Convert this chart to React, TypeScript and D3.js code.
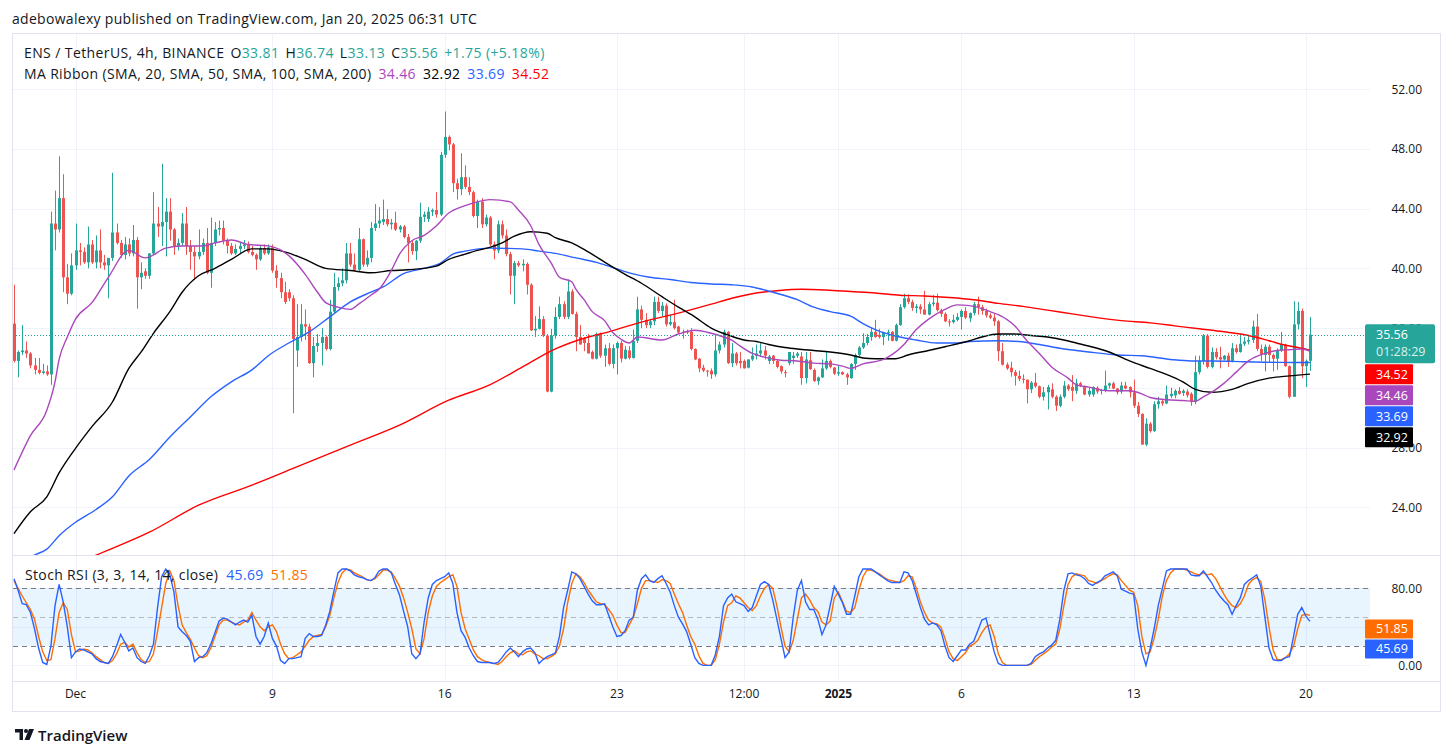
import React from "react";
import * as d3 from "d3";

// ---------- DATA ----------
// 4h candles [open, high, low, close], starting 2024-11-28 12:00 UTC
const candles: [number, number, number, number][] = [
  [36.3,38.9,33.7,33.8],[33.8,34.5,32.7,34.4],[34.4,36.2,34.2,34.5],[34.5,35.1,34.0,34.3],[34.3,34.4,33.3,33.5],[33.5,34.0,32.9,33.2],[33.2,34.0,32.9,33.0],[33.0,33.6,32.9,33.1],[33.1,33.5,32.8,32.9],[32.9,43.8,32.2,43.0],
  [43.0,45.2,41.2,42.6],[42.6,47.5,42.4,44.7],[44.7,46.3,38.4,39.4],[39.4,40.3,37.6,38.3],[38.3,41.0,38.2,40.2],[40.2,43.0,39.9,41.2],[41.2,41.7,40.2,41.1],[41.1,41.4,40.3,40.4],[40.4,42.8,40.0,41.6],[41.6,41.9,40.3,40.4],
  [40.4,42.2,40.0,41.2],[41.2,42.6,40.0,40.4],[40.4,40.9,39.9,40.2],[40.2,40.7,38.0,40.7],[40.7,46.4,40.5,42.4],[42.4,43.0,41.6,41.7],[41.7,41.9,40.7,40.9],[40.9,42.1,40.6,41.6],[41.6,42.0,40.8,41.0],
  [41.0,42.9,40.8,41.9],[41.9,42.1,37.3,39.4],[39.4,40.4,38.6,39.7],[39.8,40.0,39.3,39.5],[39.5,41.0,39.3,41.0],[41.0,45.1,40.9,43.0],[43.0,44.1,42.1,42.8],[42.8,47.0,41.5,43.1],[43.1,44.7,40.8,43.8],[43.8,44.7,41.85,42.6],
  [42.6,42.7,40.9,41.5],[41.5,42.0,41.2,41.7],[41.7,43.7,41.5,43.0],[43.0,44.1,40.9,41.5],[41.5,41.9,39.9,41.1],[41.1,41.5,39.2,40.8],[40.8,42.6,40.6,41.1],[41.1,42.0,40.9,41.7],[41.7,42.7,39.6,39.7],[39.7,43.4,38.7,41.7],
  [41.7,43.1,41.5,42.6],[42.6,43.2,42.2,42.7],[42.7,43.2,41.6,41.85],[41.85,42.0,41.0,41.5],[41.5,41.7,40.9,41.0],[41.0,41.6,40.9,41.3],[41.3,41.7,41.0,41.5],[41.5,41.9,41.3,41.6],[41.6,41.8,41.0,41.1],
  [41.1,41.5,40.8,40.9],[40.9,41.0,39.9,40.6],[40.6,41.5,40.5,41.35],[41.35,41.6,40.9,41.0],[41.0,41.6,40.9,41.4],[41.4,41.6,39.7,39.85],[39.85,40.2,38.7,39.35],[39.35,39.7,38.0,38.4],[38.4,39.1,37.6,37.75],[38.4,38.6,37.8,38.0],
  [38.0,38.2,30.3,35.27],[34.5,37.6,33.4,35.4],[35.4,37.6,35.1,36.26],[36.26,37.25,35.2,36.1],[36.1,36.3,33.6,33.65],[33.65,35.4,32.7,34.8],[34.8,35.6,34.4,35.0],[35.0,36.0,33.5,35.4],[35.4,35.5,34.5,34.6],[34.6,37.9,34.5,37.1],
  [37.1,39.7,37.0,38.75],[38.75,39.4,38.5,39.0],[39.0,40.0,38.8,39.2],[39.2,41.7,39.0,41.0],[41.0,41.7,40.1,40.25],[40.25,41.0,39.8,39.9],[39.9,42.7,39.8,41.95],[41.95,42.0,40.1,40.25],[40.25,41.2,40.1,40.7],
  [40.7,43.1,40.4,42.7],[42.7,44.3,42.5,43.0],[43.0,44.1,42.7,43.2],[43.1,44.6,42.9,43.3],[43.3,43.95,42.8,42.95],[42.95,43.3,42.6,43.05],[43.05,43.8,42.5,42.6],[42.6,42.9,42.4,42.8],[42.8,42.9,42.0,42.1],[42.1,42.3,40.4,41.7],
  [41.7,41.9,40.9,41.15],[41.15,41.9,40.55,41.85],[41.85,44.4,41.7,43.45],[43.45,43.8,43.1,43.6],[43.3,44.1,43.1,43.8],[43.8,44.0,43.5,43.9],[43.9,45.1,43.4,43.6],[43.6,47.8,43.5,47.6],[47.6,50.5,47.4,48.8],[48.8,48.9,47.9,48.3],
  [48.3,48.4,45.1,45.7],[45.7,46.0,44.6,45.3],[45.3,47.7,44.9,46.1],[46.1,46.9,45.3,45.45],[45.45,46.1,44.9,45.1],[45.1,45.2,43.4,43.5],[43.5,44.6,42.7,44.45],[44.45,44.7,42.7,42.95],[42.95,43.6,42.8,43.4],[43.4,43.5,41.5,41.6],
  [41.6,41.8,40.6,41.2],[41.2,43.2,41.0,42.95],[42.95,43.2,42.0,42.2],[42.2,42.6,40.8,40.95],[40.95,41.1,38.25,39.5],[39.5,40.5,37.6,40.35],[40.35,40.5,40.1,40.2],[40.2,40.6,39.8,40.3],[40.3,40.4,38.25,38.9],[38.9,39.0,35.8,35.85],
  [35.85,36.8,35.4,35.95],[35.95,37.45,35.9,36.6],[36.6,36.8,35.4,35.5],[35.5,35.6,31.7,31.75],[31.75,35.95,31.7,35.5],[35.5,37.4,35.3,36.75],[36.75,38.1,36.6,37.6],[37.6,37.8,36.6,36.75],[36.75,39.25,36.6,38.45],[38.45,38.6,36.9,36.95],
  [36.95,37.1,34.45,35.4],[35.4,36.2,34.9,34.9],[35.3,35.4,34.45,35.0],[35.0,35.6,34.3,34.3],[34.4,34.5,33.9,33.95],[33.95,35.7,33.9,35.6],[35.6,35.7,34.0,34.15],[34.15,34.9,33.4,34.65],[34.65,35.0,33.5,33.6],
  [33.6,34.9,33.3,34.65],[34.65,35.1,32.9,35.0],[35.0,35.15,33.7,33.95],[33.95,34.8,33.9,34.55],[34.5,34.8,33.9,34.0],[34.0,35.9,33.95,35.15],[35.15,38.1,35.0,37.25],[37.25,37.5,36.0,36.55],[36.55,37.0,36.0,36.2],[36.2,36.6,36.0,36.45],
  [36.45,38.1,36.2,37.75],[37.75,38.1,37.0,37.15],[37.15,37.75,36.8,37.5],[37.5,37.65,36.1,36.25],[36.25,36.9,36.15,36.4],[36.4,37.9,35.9,36.0],[36.1,36.15,35.6,35.7],[35.7,35.9,35.3,35.75],[35.8,35.9,35.6,35.7],[35.75,36.0,34.5,34.6],
  [34.6,34.65,33.85,33.9],[33.95,34.0,33.05,33.3],[33.35,33.55,33.05,33.15],[33.15,33.2,32.75,33.1],[33.15,33.3,32.6,32.9],[32.9,35.6,32.75,34.5],[34.5,35.1,34.3,34.9],[34.9,35.9,34.7,35.75],[35.75,35.8,33.6,33.65],
  [33.65,35.0,33.4,34.3],[34.3,34.4,33.5,33.65],[33.8,34.4,33.3,33.65],[33.8,33.9,33.3,33.3],[33.35,33.9,33.3,33.9],[33.9,34.7,33.8,34.15],[34.15,34.9,33.9,34.3],[34.3,35.0,34.1,34.5],[34.5,34.8,33.9,34.15],[33.8,34.2,33.6,34.1],
  [34.15,34.2,33.6,33.8],[33.8,33.9,33.3,33.4],[33.45,33.5,32.95,33.1],[33.05,33.2,32.7,33.0],[33.65,34.4,33.5,34.4],[34.0,34.4,33.6,34.15],[34.15,34.4,34.0,34.3],[34.1,34.4,32.2,32.65],[32.65,34.4,32.3,33.9],[33.85,34.4,33.2,33.25],
  [33.2,33.3,32.4,32.45],[32.45,32.75,32.2,32.7],[32.7,33.9,32.65,33.3],[33.3,34.45,33.2,33.8],[33.8,33.9,33.3,33.4],[33.35,33.4,32.85,32.95],[32.95,33.5,32.8,33.05],[33.05,33.1,32.85,32.9],[32.9,33.0,32.2,32.7],
  [32.65,33.65,32.6,33.6],[33.6,34.3,33.2,34.2],[34.2,34.8,34.1,34.7],[34.7,35.65,34.6,35.0],[35.0,35.6,34.85,35.4],[35.4,36.0,35.15,35.75],[35.75,36.55,35.35,35.4],[35.55,35.95,35.3,35.4],[35.4,35.75,34.85,35.7],[35.7,35.9,35.15,35.75],
  [35.75,35.8,35.1,35.15],[35.15,36.3,35.1,36.2],[36.2,37.6,36.15,37.4],[37.4,38.3,37.3,38.0],[38.0,38.25,37.6,37.75],[37.75,37.9,37.15,37.35],[37.35,37.6,37.0,37.45],[37.45,37.6,36.95,37.25],[37.25,38.5,36.9,36.9],[36.9,37.75,36.85,37.6],
  [37.6,38.2,37.45,37.7],[37.7,38.3,37.1,37.2],[37.2,37.3,36.75,36.95],[36.95,37.05,36.4,36.45],[36.45,36.6,36.1,36.4],[36.4,36.9,36.3,36.55],[36.55,37.0,36.45,36.75],[36.75,37.25,35.9,37.15],[37.15,37.4,36.6,36.7],[36.65,37.05,36.4,37.0],
  [37.0,37.75,36.85,37.6],[37.6,38.1,36.9,37.4],[37.4,37.55,36.9,37.15],[37.15,37.3,36.7,36.85],[36.85,37.0,36.6,36.7],[36.7,36.95,36.15,36.45],[36.45,36.55,33.8,34.45],[34.45,35.0,33.5,33.55],[33.55,33.7,33.2,33.3],[33.35,33.75,32.75,33.05],
  [33.05,33.2,32.15,32.8],[32.8,33.15,32.45,32.6],[32.6,32.9,32.3,32.55],[32.55,32.55,30.95,31.9],[31.9,32.45,31.65,32.35],[32.35,33.0,32.0,32.1],[32.1,32.15,31.3,31.4],[31.4,32.05,31.15,31.7],[31.7,32.2,30.55,32.05],[31.9,32.3,31.3,31.4],
  [31.4,31.5,30.45,30.8],[30.8,31.55,30.7,31.4],[31.4,32.45,31.3,32.15],[32.15,32.25,31.8,31.9],[32.05,32.85,31.1,31.8],[31.8,32.6,31.6,32.3],[32.3,32.4,32.05,32.15],[32.05,32.15,31.5,31.55],[31.55,32.0,31.4,31.8],
  [31.55,32.1,31.4,32.05],[32.0,32.1,31.6,31.75],[31.8,31.9,31.55,31.85],[31.8,33.15,31.7,32.15],[32.15,32.35,31.95,32.3],[32.3,32.4,31.9,31.95],[31.95,32.0,31.55,31.7],[31.75,32.4,31.6,32.15],[32.15,32.4,31.9,31.95],[32.05,32.1,31.35,31.7],
  [31.7,32.55,30.65,30.8],[30.8,31.05,30.05,30.25],[30.25,30.3,28.2,28.2],[28.2,29.95,28.1,29.6],[29.6,29.7,29.0,29.1],[29.1,31.1,29.05,30.9],[30.9,31.4,30.6,31.1],[31.1,31.2,30.8,30.95],[30.95,32.15,30.9,31.55],[31.45,32.0,31.3,31.6],
  [31.5,31.9,31.3,31.8],[31.8,32.05,31.55,31.6],[31.65,31.9,31.45,31.8],[31.75,31.9,31.35,31.5],[31.6,31.7,30.8,31.05],[31.05,34.15,30.9,33.05],[33.05,34.15,32.9,33.8],[33.8,35.6,33.55,35.5],[35.5,35.6,33.3,33.4],
  [33.4,34.7,33.3,34.4],[34.4,34.65,33.9,34.05],[34.05,34.75,33.3,33.9],[33.9,34.2,33.85,34.15],[34.15,34.35,33.4,33.8],[33.8,35.0,33.7,34.65],[34.65,34.9,34.3,34.4],[34.4,35.6,34.35,34.95],[34.95,35.4,34.8,35.1],[35.1,35.5,34.9,35.2],
  [35.2,36.5,35.0,36.1],[36.1,36.95,34.45,34.6],[34.6,34.9,33.8,34.2],[34.2,34.9,33.1,34.75],[34.75,34.9,33.7,34.2],[34.2,34.3,33.1,33.95],[33.95,34.65,33.2,34.5],[34.5,35.75,34.4,34.9],[34.9,34.95,33.4,33.45],[33.45,33.5,31.3,31.4],
  [31.4,37.8,31.4,36.25],[36.25,37.75,35.9,37.15],[37.15,37.3,32.65,33.45],[33.45,33.9,32.05,33.81],[33.81,36.74,33.13,35.56],
];

// MA Ribbon values sampled along the chart: [candle index, value]
const sma20: [number, number][] = [[0,26.5],[4,28.8],[8,30.5],[10,32.4],[11,33.9],[13,35.4],[15,36.6],[19,37.7],[23,39.4],[28,41.2],[32,40.7],[37,41.35],[41,41.5],[46,41.5],[49,41.7],[53,41.9],[57,41.6],[62,41.5],[67,40.85],[71,39.6],[74,38.4],[76,37.7],[79,37.4],[82,37.25],[84,37.6],[87,38.2],[89,38.6],[92,39.85],[94,40.95],[97,41.85],[100,42.2],[103,42.85],[106,43.7],[110,44.2],[113,44.45],[116,44.6],[121,44.45],[123,43.9],[126,42.85],[128,41.6],[131,40.35],[133,39.4],[136,39.1],[137,38.6],[139,37.9],[141,37.1],[144,36.5],[146,35.7],[148,35.25],[150,35.0],[152,35.4],[158,35.2],[162,35.6],[166,35.85],[170,35.65],[173,35.4],[175,35.2],[177,34.8],[180,34.3],[183,34.05],[187,33.85],[191,33.8],[195,33.65],[199,33.6],[202,33.45],[204,33.3],[207,33.6],[212,33.9],[214,34.2],[217,34.9],[220,35.9],[223,36.6],[227,37.25],[230,37.55],[233,37.5],[236,37.3],[238,37.1],[240,36.9],[244,36.15],[247,35.15],[250,34.3],[253,33.4],[257,32.65],[259,32.2],[262,32.05],[267,31.8],[272,31.8],[275,31.6],[277,31.35],[281,31.2],[285,31.15],[288,31.1],[290,31.4],[292,31.7],[295,32.3],[298,33.05],[301,33.8],[305,34.3],[308,34.5],[311,34.55],[314,34.6],[316,34.46]];
const sma50: [number, number][] = [[0,22.24],[4,23.7],[8,24.7],[11,26.3],[15,27.95],[19,29.4],[24,31.05],[28,33.3],[31,34.4],[34,35.65],[38,37.1],[41,38.4],[45,39.5],[49,40.0],[53,40.6],[58,41.3],[62,41.3],[66,41.1],[71,40.6],[76,40.0],[82,39.85],[87,39.7],[92,39.85],[96,39.9],[103,40.15],[106,40.6],[110,40.95],[113,41.2],[116,41.4],[119,41.7],[122,42.15],[126,42.45],[130,42.35],[132,42.05],[136,41.7],[140,41.1],[145,40.25],[149,39.6],[153,39.0],[158,38.1],[162,37.4],[166,36.75],[170,36.0],[175,35.45],[178,35.2],[181,35.1],[184,34.9],[188,34.7],[191,34.6],[195,34.5],[199,34.4],[204,34.2],[207,34.0],[210,33.95],[215,33.95],[218,34.2],[223,34.5],[227,34.75],[233,35.15],[236,35.4],[240,35.6],[244,35.6],[248,35.5],[252,35.4],[256,35.2],[259,35.0],[262,34.8],[267,34.4],[272,33.8],[277,33.3],[281,32.9],[285,32.4],[288,31.9],[292,31.7],[297,31.9],[301,32.3],[306,32.65],[311,32.8],[316,32.92]];
const sma100: [number, number][] = [[0,19.9],[5,20.8],[8,21.2],[11,22.1],[15,23.0],[20,23.85],[24,24.7],[28,26.1],[33,27.2],[38,28.7],[43,30.05],[48,31.4],[53,32.4],[58,33.2],[62,34.15],[67,35.0],[72,35.75],[77,36.75],[82,37.75],[87,38.4],[90,38.75],[95,39.65],[100,40.0],[104,40.35],[107,40.95],[110,41.15],[116,41.35],[124,41.3],[128,41.15],[132,41.0],[137,40.7],[142,40.4],[145,40.15],[150,39.7],[155,39.4],[160,39.25],[165,39.05],[170,38.95],[175,38.9],[180,38.75],[183,38.55],[187,38.25],[191,37.9],[195,37.4],[199,37.1],[204,36.8],[207,36.3],[210,35.9],[216,35.4],[220,35.2],[225,35.0],[230,35.0],[233,35.1],[240,35.15],[245,35.1],[250,34.9],[255,34.65],[259,34.5],[262,34.4],[269,34.2],[275,34.15],[282,33.9],[287,33.8],[292,33.8],[300,33.75],[308,33.7],[316,33.69]];
const sma200: [number, number][] = [[0,18.4],[20,20.79],[33,22.33],[45,24.14],[58,25.48],[70,26.82],[82,28.16],[94,29.5],[106,31.17],[116,32.2],[124,33.4],[132,34.6],[140,35.4],[145,35.75],[153,36.4],[162,37.0],[170,37.6],[175,38.0],[180,38.3],[186,38.5],[192,38.6],[198,38.55],[204,38.45],[210,38.35],[216,38.2],[222,38.15],[228,38.05],[234,37.9],[240,37.65],[246,37.45],[252,37.2],[258,36.95],[264,36.7],[270,36.5],[277,36.35],[283,36.15],[289,35.95],[295,35.75],[301,35.5],[306,35.15],[310,34.85],[313,34.7],[316,34.52]];

// Stoch RSI %K and %D, one value per candle
const stochK = [90,78,64,63,55,38,18,3,1,20,62,84,66,40,8,14,17,16,14,12,7,4,3,2,9,20,32,24,15,
  18,8,4,2,10,22,60,92,100,94,76,40,35,31,25,4,8,9,13,22,34,46,49,48,45,42,45,47,45,
  52,30,22,30,44,28,20,5,2,7,7,8,9,28,33,30,30,31,42,56,77,96,100,100,98,94,92,91,89,
  88,91,98,100,100,96,84,73,56,40,12,7,12,45,70,84,88,90,92,96,85,55,36,29,18,10,4,3,3,3,
  2,3,8,14,18,14,9,14,17,18,13,2,6,9,11,13,30,60,78,97,95,90,82,74,67,63,63,64,52,
  40,30,31,36,47,50,78,90,94,88,86,90,93,85,76,62,50,43,35,22,8,2,0,0,0,11,30,62,70,
  74,66,64,62,56,60,72,84,87,84,68,48,28,8,14,50,78,88,66,58,58,48,32,42,62,82,74,65,53,
  53,72,92,100,100,100,97,94,91,88,86,86,86,97,96,88,74,60,48,42,44,42,36,20,8,4,10,16,16,22,
  25,36,47,49,32,14,2,0,0,0,0,0,0,0,2,9,12,14,18,21,26,48,78,95,96,94,93,90,85,
  83,86,88,93,95,97,93,79,77,75,74,38,14,0,17,38,62,80,98,100,100,100,100,100,94,93,93,98,92,
  86,78,72,67,63,53,62,70,84,88,91,94,82,50,18,6,5,5,8,9,30,53,60,51,45.69];
const stochD = [88,80,72,65,58,48,30,14,5,6,28,55,65,58,32,14,15,17,16,13,9,6,3,2,5,12,22,24,19,
  22,13,6,3,4,12,35,60,85,98,88,62,42,34,27,18,10,8,10,18,30,42,47,47,45,43,42,45,47,
  55,47,40,36,40,42,35,22,12,7,8,11,14,20,26,30,31,32,40,52,70,86,96,100,99,96,94,92,89,
  88,90,94,99,99,97,90,82,70,55,38,17,12,28,55,72,82,86,89,92,94,82,55,38,27,16,9,6,4,3,
  2,1,4,9,13,15,12,11,14,15,12,10,7,7,9,12,20,38,65,85,95,92,86,78,72,66,64,63,58,
  52,42,34,34,42,50,64,80,88,88,87,86,89,88,85,74,64,55,42,30,22,10,2,0,0,6,22,45,62,
  65,72,70,65,60,57,62,72,80,84,80,62,40,20,14,26,48,70,74,68,60,56,45,42,46,70,76,66,56,
  55,60,78,92,99,99,97,95,92,89,88,87,86,88,93,92,80,66,55,47,44,43,40,28,14,7,5,9,13,20,
  22,26,34,40,42,30,12,3,0,0,0,0,0,0,1,5,9,12,15,19,22,38,62,84,92,95,94,93,88,
  87,85,88,90,93,95,94,88,83,78,76,62,30,12,14,28,48,72,88,96,100,100,100,99,97,95,94,96,94,
  95,90,82,74,67,62,60,64,72,84,89,91,87,68,40,16,6,6,8,12,20,38,52,53,51.85];

const priceTicks = [24, 28, 32, 36, 40, 44, 48, 52];
const stochTicks = [0, 40, 80];
const stochBands = [20, 50, 80];
const timeTickDates = ["2024-12-01T00:00Z","2024-12-09T00:00Z","2024-12-16T00:00Z","2024-12-23T00:00Z","2024-12-28T04:00Z","2025-01-01T00:00Z","2025-01-06T00:00Z","2025-01-13T00:00Z","2025-01-20T00:00Z"];
const timeTickLabels = ["Dec","9","16","23","12:00","2025","6","13","20"];
const ohlcLabels = ["O","H","L","C"];
const ohlcValues = ["33.81","36.74","33.13","35.56"];
const changeText = "+1.75 (+5.18%)";
const maLegend = ["34.46","32.92","33.69","34.52"];
const maLast = [34.46, 32.92, 33.69, 34.52];
const stochLegend = ["45.69","51.85"];
const stochLast = [45.69, 51.85];
const countdown = "01:28:29";

// ---------- STYLE ----------
const START = Date.UTC(2024, 10, 28, 12);
const STEP = 4 * 3600 * 1000;
const UP = "#26a69a", DOWN = "#ef5350";
const MA_COLORS = ["#ab47bc", "#000000", "#2962ff", "#ff0000"]; // 20, 50, 100, 200
const K_COLOR = "#2962ff", D_COLOR = "#ff6d00";
const TEXT = "#131722";
const GRID = "#f0f3fa";
const FONT = "'Open Sans', Roboto, sans-serif";

const L = 13, R = 1370;
const PT = 34, PB = 555, ST = 556, SB = 681;
const BX = 1365, BW_NARROW = 48, BW_WIDE = 70;

export default function App() {
  const times = candles.map((_, i) => new Date(START + i * STEP));
  const x = d3.scaleUtc().domain([times[0], times[times.length - 1]]).range([14, 1310]);
  const xi = (i: number) => x(new Date(START + i * STEP));
  const y = d3.scaleLinear().domain([24, 52]).range([507.3, 89.1]);
  const ys = d3.scaleLinear().domain([20, 80]).range([646.1, 588.3]);

  const maLine = d3.line<[number, number]>().x(d => xi(d[0])).y(d => y(d[1])).curve(d3.curveMonotoneX);
  const stLine = d3.line<number>().x((_, i) => xi(i)).y(d => ys(d)).curve(d3.curveLinear);

  const last = candles[candles.length - 1][3];
  // price-axis badges, stacked to avoid overlap
  const closeTop = y(last) - 10.5;
  const closeH = 39;
  const order = [3, 0, 2, 1];
  let cursor = closeTop + closeH + 1;
  const badges = order.map(k => {
    const top = Math.max(y(maLast[k]) - 10, cursor);
    cursor = top + 21;
    return { k, top };
  });
  // stoch badges (D above K)
  let sc = -Infinity;
  const stBadges = [1, 0].map(j => {
    const top = Math.max(ys(stochLast[j]) + 4, sc);
    sc = top + 20;
    return { top, c: j === 1 ? D_COLOR : K_COLOR, t: stochLegend[j] };
  });

  const narrowSpans = [...badges.map(b => [b.top, b.top + 20]), ...stBadges.map(b => [b.top, b.top + 19])];
  const hidden = (py: number) => narrowSpans.some(([a, b]) => py >= a && py <= b);

  const bw = 3;

  return (
    <svg width={1453} height={756} style={{ position: "absolute", left: 0, top: 0, background: "#fff" }} fontFamily={FONT}>
      <defs>
        <clipPath id="pc"><rect x={L} y={PT} width={R - L} height={PB - PT} /></clipPath>
        <clipPath id="sc"><rect x={L} y={ST} width={R - L} height={SB - ST} /></clipPath>
      </defs>
      <rect width={1453} height={756} fill="#fff" />
      <text x={12} y={24} fontSize={14} letterSpacing={0.3} fill={TEXT}>adebowalexy published on TradingView.com, Jan 20, 2025 06:31 UTC</text>
      <rect x={12.5} y={33.5} width={1428} height={678} fill="none" stroke="#e0e3eb" />

      {/* grid */}
      {priceTicks.map(t => <line key={"pg" + t} x1={L} x2={R} y1={Math.round(y(t)) + 0.5} y2={Math.round(y(t)) + 0.5} stroke={GRID} />)}
      {stochTicks.map(t => <line key={"sg" + t} x1={L} x2={R} y1={Math.round(ys(t)) + 0.5} y2={Math.round(ys(t)) + 0.5} stroke={GRID} />)}
      {timeTickDates.map(d => {
        const px = Math.round(x(new Date(d))) + 0.5;
        return <line key={"vg" + d} x1={px} x2={px} y1={PT} y2={SB} stroke={GRID} />;
      })}

      {/* stoch band */}
      <rect x={L} y={ys(80)} width={R - L} height={ys(20) - ys(80)} fill="rgba(33,150,243,0.1)" />
      {stochBands.map(b => (
        <line key={"sb" + b} x1={L} x2={R} y1={Math.round(ys(b)) + 0.5} y2={Math.round(ys(b)) + 0.5}
          stroke={b === 50 ? "rgba(120,123,134,0.5)" : "#787b86"} strokeDasharray="5,4" />
      ))}

      {/* pane separators */}
      <line x1={L} x2={1440} y1={PB + 0.5} y2={PB + 0.5} stroke="#e0e3eb" />
      <line x1={L} x2={1440} y1={SB + 0.5} y2={SB + 0.5} stroke="#e0e3eb" />

      {/* candles */}
      <g clipPath="url(#pc)">
        {candles.map((c, i) => {
          const [o, h, l, cl] = c;
          const col = cl >= o ? UP : DOWN;
          const cx = Math.round(xi(i));
          const top = y(Math.max(o, cl)), bot = y(Math.min(o, cl));
          return (
            <g key={i}>
              <line x1={cx + 0.5} x2={cx + 0.5} y1={y(h)} y2={y(l)} stroke={col} />
              <rect x={cx - 1} y={top} width={bw} height={Math.max(1, bot - top)} fill={col} />
            </g>
          );
        })}
        {[sma200, sma100, sma50, sma20].map((s, j) => (
          <path key={"ma" + j} d={maLine(s) || ""} fill="none" stroke={MA_COLORS[3 - j]} strokeWidth={1.4} />
        ))}
        <line x1={L} x2={R} y1={Math.round(y(last)) + 0.5} y2={Math.round(y(last)) + 0.5} stroke={UP} strokeDasharray="1,2" />
      </g>

      {/* stoch lines */}
      <g clipPath="url(#sc)">
        <path d={stLine(stochD) || ""} fill="none" stroke={D_COLOR} strokeWidth={1.4} />
        <path d={stLine(stochK) || ""} fill="none" stroke={K_COLOR} strokeWidth={1.4} />
      </g>

      {/* legends */}
      <text x={24} y={58} fontSize={14} letterSpacing={0.4} fill={TEXT}>
        <tspan>ENS / TetherUS, 4h, BINANCE</tspan>
        {ohlcLabels.map((lb, j) => (
          <React.Fragment key={lb}>
            <tspan dx={j === 0 ? 6 : 6} fill={TEXT}>{lb}</tspan>
            <tspan fill={UP}>{ohlcValues[j]}</tspan>
          </React.Fragment>
        ))}
        <tspan dx={6} fill={UP}>{changeText}</tspan>
      </text>
      <text x={24} y={79} fontSize={14} letterSpacing={0.35} fill={TEXT}>
        <tspan>MA Ribbon (SMA, 20, SMA, 50, SMA, 100, SMA, 200)</tspan>
        {maLegend.map((v, j) => <tspan key={j} dx={7} fill={MA_COLORS[j]}>{v}</tspan>)}
      </text>
      <text x={25} y={580} fontSize={14} letterSpacing={0.35} fill={TEXT}>
        <tspan>Stoch RSI (3, 3, 14, 14, close)</tspan>
        <tspan dx={8} fill={K_COLOR}>{stochLegend[0]}</tspan>
        <tspan dx={7} fill={D_COLOR}>{stochLegend[1]}</tspan>
      </text>

      {/* price axis labels */}
      {priceTicks.filter(t => !hidden(y(t))).map(t => (
        <text key={"pl" + t} x={1422} y={y(t) + 4.5} fontSize={12} fill={TEXT} textAnchor="end">{t.toFixed(2)}</text>
      ))}
      {stochTicks.filter(t => !hidden(ys(t))).map(t => (
        <text key={"sl" + t} x={1422} y={ys(t) + 4.5} fontSize={12} fill={TEXT} textAnchor="end">{t.toFixed(2)}</text>
      ))}

      {/* badges */}
      <rect x={BX} y={closeTop} width={BW_WIDE} height={closeH} fill={UP} rx={2} />
      <text x={BX + 11} y={closeTop + 15} fontSize={12.5} fill="#fff">{last.toFixed(2)}</text>
      <text x={BX + 11} y={closeTop + 32} fontSize={12.5} fill="rgba(255,255,255,0.85)">{countdown}</text>
      {badges.map(b => (
        <g key={"b" + b.k}>
          <rect x={BX} y={b.top} width={BW_NARROW} height={20} fill={MA_COLORS[b.k]} rx={1} />
          <text x={BX + 11} y={b.top + 14.5} fontSize={12.5} fill="#fff">{maLast[b.k].toFixed(2)}</text>
        </g>
      ))}
      {stBadges.map((b, j) => (
        <g key={"sbd" + j}>
          <rect x={BX} y={b.top} width={BW_NARROW} height={19} fill={b.c} rx={1} />
          <text x={BX + 11} y={b.top + 14} fontSize={12.5} fill="#fff">{b.t}</text>
        </g>
      ))}

      {/* time axis */}
      {timeTickDates.map((d, j) => (
        <text key={"tl" + d} x={x(new Date(d))} y={697.5} fontSize={12} fill={TEXT} textAnchor="middle"
          fontWeight={timeTickLabels[j] === "2025" ? 700 : 400}>{timeTickLabels[j]}</text>
      ))}

      {/* footer logo */}
      <g transform="translate(15,729)" fill={TEXT}>
        <path d="M0 0H8V11H4.5V3.5H0Z" />
        <circle cx={11} cy={2} r={2} />
        <path d="M14 0H19L14.5 11H9.5Z" />
      </g>
      <text x={38} y={740.5} fontSize={15} fontWeight={600} fill={TEXT}>TradingView</text>
    </svg>
  );
}
